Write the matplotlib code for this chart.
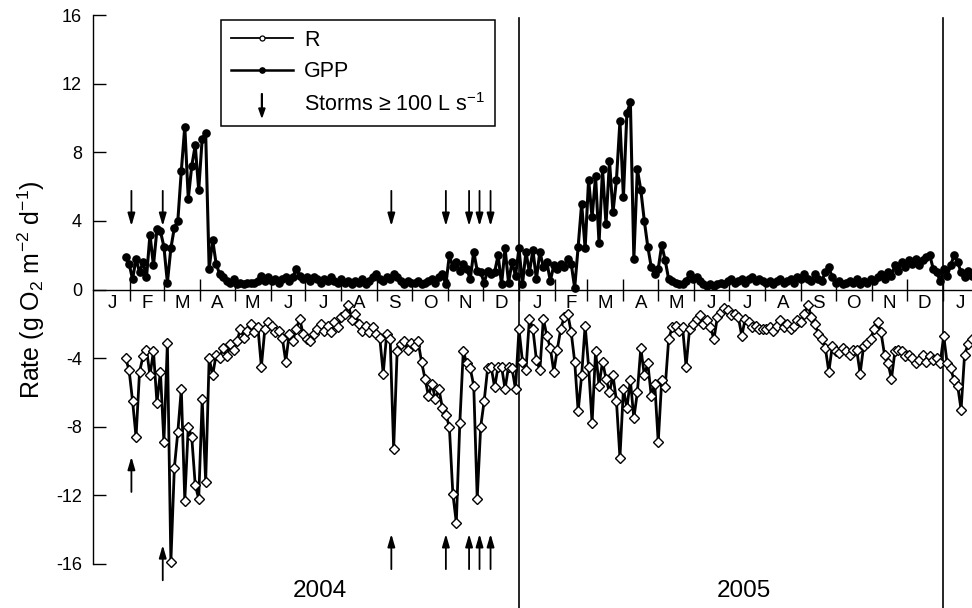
import numpy as np
import matplotlib
matplotlib.use('Agg')
import matplotlib.pyplot as plt
from matplotlib.lines import Line2D
from matplotlib.patches import FancyArrow, Patch
from matplotlib.legend_handler import HandlerPatch

plt.rcParams['font.family'] = ['Liberation Sans', 'DejaVu Sans']
plt.rcParams['mathtext.fontset'] = 'custom'
plt.rcParams['mathtext.rm'] = 'Liberation Sans'
plt.rcParams['mathtext.it'] = 'Liberation Sans:italic'
plt.rcParams['axes.unicode_minus'] = False

# ---------------- data ----------------
# days counted from 1 Jan 2004; values every 3 days starting at day 27
first_day = 27
step_days = 3

gpp = [
    1.9, 1.5, 0.6, 1.8, 1.0, 1.6, 0.7, 3.2, 1.4, 3.5,
    3.4, 2.5, 0.4, 2.4, 3.6, 4.0, 6.9, 9.5, 5.3, 7.2,
    8.4, 5.8, 8.8, 9.1, 1.2, 2.9, 1.5, 0.9, 0.7, 0.5,
    0.4, 0.6, 0.3, 0.4, 0.3, 0.4, 0.4, 0.4, 0.5, 0.8,
    0.5, 0.7, 0.5, 0.6, 0.4, 0.6, 0.7, 0.5, 0.7, 1.2,
    0.8, 0.6, 0.7, 0.5, 0.7, 0.6, 0.4, 0.6, 0.5, 0.7,
    0.5, 0.4, 0.6, 0.4, 0.5, 0.3, 0.5, 0.4, 0.6, 0.3,
    0.5, 0.7, 0.9, 0.6, 0.5, 0.7, 0.6, 0.9, 0.7, 0.5,
    0.3, 0.5, 0.4, 0.4, 0.5, 0.3, 0.4, 0.5, 0.6, 0.4,
    0.7, 0.9, 0.3, 2.0, 1.3, 1.6, 1.1, 1.5, 1.2, 0.6,
    2.2, 1.1, 1.0, 0.4, 1.1, 0.9, 1.0, 2.0, 0.3, 2.4,
    0.4, 1.6, 0.8, 2.4, 0.3, 2.2, 1.0, 2.3, 0.6, 2.2,
    1.3, 1.6, 0.5, 1.4, 1.2, 1.5, 1.3, 1.8, 1.5, 0.1,
    2.5, 5.0, 2.4, 6.4, 4.2, 6.6, 2.7, 7.0, 3.8, 7.5,
    4.5, 6.4, 9.8, 5.4, 10.3, 10.9, 1.8, 7.0, 5.8, 4.0,
    2.5, 1.3, 0.9, 1.2, 2.6, 1.7, 0.6, 0.5, 0.4, 0.3,
    0.3, 0.5, 0.9, 0.6, 0.7, 0.5, 0.3, 0.2, 0.3, 0.2,
    0.3, 0.4, 0.3, 0.5, 0.6, 0.4, 0.5, 0.6, 0.4, 0.6,
    0.7, 0.5, 0.6, 0.5, 0.4, 0.5, 0.3, 0.5, 0.6, 0.4,
    0.5, 0.6, 0.4, 0.7, 0.6, 0.9, 0.6, 0.5, 0.9, 0.6,
    0.5, 1.0, 1.3, 0.7, 0.4, 0.5, 0.3, 0.4, 0.5, 0.4,
    0.6, 0.3, 0.5, 0.4, 0.6, 0.5, 0.7, 0.9, 0.6, 1.0,
    0.8, 1.4, 1.1, 1.6, 1.3, 1.7, 1.5, 1.8, 1.4, 1.7,
    1.9, 2.0, 1.2, 1.0, 0.5, 1.2, 0.8, 1.4, 2.0, 1.6,
    1.0, 0.7, 1.1, 0.8,
]

resp = [
    -4.0, -4.7, -6.5, -8.6, -4.8, -3.9, -3.5, -5.0, -3.6, -6.6,
    -4.8, -8.9, -3.1, -15.9, -10.4, -8.3, -5.8, -12.3, -8.0, -8.6,
    -11.4, -12.2, -6.4, -11.2, -4.0, -5.0, -3.8, -4.0, -3.4, -3.9,
    -3.2, -3.5, -3.0, -2.3, -2.8, -2.4, -2.0, -2.5, -2.2, -4.5,
    -2.3, -1.9, -2.1, -2.5, -2.4, -2.8, -4.2, -2.6, -3.0, -2.3,
    -1.7, -2.6, -2.9, -3.0, -2.6, -2.3, -2.0, -2.4, -2.1, -2.5,
    -1.9, -2.2, -1.6, -1.4, -0.9, -1.8, -1.4, -2.0, -2.4, -2.1,
    -2.5, -2.2, -2.6, -2.8, -4.9, -2.6, -2.9, -9.3, -3.6, -3.2,
    -3.0, -3.5, -3.1, -3.3, -3.0, -4.2, -5.2, -6.2, -5.5, -6.4,
    -5.8, -6.9, -7.3, -8.0, -11.9, -13.6, -7.8, -3.6, -4.3, -4.6,
    -5.6, -12.2, -8.0, -6.5, -4.6, -4.5, -5.7, -4.5, -4.5, -5.8,
    -4.5, -4.6, -5.8, -2.3, -4.2, -4.7, -1.7, -2.3, -4.1, -4.7,
    -1.7, -2.7, -3.4, -4.8, -3.5, -2.3, -1.6, -1.4, -2.5, -4.2,
    -7.1, -5.0, -2.1, -4.5, -7.8, -3.6, -5.6, -4.2, -5.2, -6.0,
    -5.0, -6.5, -9.8, -5.8, -6.9, -5.3, -7.5, -6.0, -3.4, -5.0,
    -4.3, -6.2, -5.5, -8.9, -5.3, -5.7, -2.9, -2.2, -2.1, -2.4,
    -2.2, -4.5, -2.3, -2.0, -1.7, -1.5, -2.0, -1.8, -2.2, -2.9,
    -1.6, -1.3, -1.1, -1.2, -1.5, -1.4, -1.6, -2.7, -1.7, -1.9,
    -2.2, -2.1, -2.3, -2.3, -2.3, -2.2, -2.4, -2.1, -1.8, -2.2,
    -2.0, -2.3, -2.1, -1.8, -1.9, -1.4, -0.9, -1.6, -2.0, -2.6,
    -2.9, -3.4, -4.8, -3.3, -3.6, -3.7, -3.4, -3.6, -3.8, -3.5,
    -3.5, -4.9, -3.3, -3.1, -2.9, -2.3, -1.9, -2.5, -3.8, -4.3,
    -5.2, -3.6, -3.5, -3.6, -3.9, -3.8, -4.0, -4.3, -4.1, -3.8,
    -4.2, -3.9, -4.1, -4.0, -4.3, -2.7, -4.3, -4.6, -5.3, -5.6,
    -7.0, -3.8, -3.2, -2.9,
]

storm_days = [32, 59, 256, 303, 323, 332, 341.5]
month_letters = ['J', 'F', 'M', 'A', 'M', 'J', 'J', 'A', 'S', 'O', 'N', 'D']
year_labels = ['2004', '2005']
yticks = [-16, -12, -8, -4, 0, 4, 8, 12, 16]

# ---------------- derived positions ----------------
days_g = first_day + step_days * np.arange(len(gpp))
days_r = first_day + step_days * np.arange(len(resp))

origin = np.datetime64('2004-01-01')
month_starts = np.arange('2004-01', '2006-03', dtype='datetime64[M]')
month_start_days = (month_starts.astype('datetime64[D]') - origin).astype(int)
month_mid_days = (month_start_days[:-1] + month_start_days[1:]) / 2.0
month_mid_labels = [month_letters[i % 12] for i in range(len(month_mid_days))]
year_start_days = [(np.datetime64(f'{y}-01-01') - origin).astype(int) for y in (2005, 2006)]

x_lo, x_hi = -1.1, 756.4

fig = plt.figure(figsize=(9.72, 6.08), dpi=100)
ax = fig.add_axes([93 / 972, 1 - 564 / 608, 1 - 93 / 972, (564 - 15) / 608])
ax.set_xlim(x_lo, x_hi)
ax.set_ylim(-16, 16)

# spines
for s in ('top', 'right'):
    ax.spines[s].set_visible(False)
ax.spines['bottom'].set_position(('data', 0))
ax.spines['bottom'].set_linewidth(1.0)
ax.spines['left'].set_linewidth(1.0)

# y ticks
ax.set_yticks(yticks)
ax.set_yticklabels([str(v) for v in yticks])
ax.tick_params(axis='y', direction='in', length=9, width=1.0, labelsize=13, pad=8)

# x ticks: month boundaries (major), letters at month middles (minor)
sel = (month_start_days > 0) & (month_start_days < x_hi)
ax.set_xticks(month_start_days[sel])
ax.set_xticklabels([])
ax.tick_params(axis='x', which='major', direction='inout', length=16, width=1.0)
selm = month_mid_days < x_hi
ax.set_xticks(month_mid_days[selm], minor=True)
ax.set_xticklabels([l for l, k in zip(month_mid_labels, selm) if k], minor=True)
ax.tick_params(axis='x', which='minor', length=0, labelsize=13.5, pad=4)

# series
ax.plot(days_r, resp, color='black', lw=2.0, marker='D', ms=4.8,
        mfc='white', mec='black', mew=1.0, zorder=3, clip_on=False)
ax.plot(days_g, gpp, color='black', lw=2.2, marker='o', ms=5.2,
        mfc='black', mec='black', zorder=3)

# year separators
for d in year_start_days:
    ax.plot([d, d], [15.85, -18.7], color='black', lw=1.2, clip_on=False, zorder=2)

# year labels
for i, lab in enumerate(year_labels):
    ax.text(194 + 365.5 * i, -17.55, lab, ha='center', va='center', fontsize=17.5)

# storm arrows (down above GPP, up below R)
arrow_kw = dict(arrowstyle='-|>,head_length=0.75,head_width=0.22', color='black',
                lw=1.3, shrinkA=0, shrinkB=0, mutation_scale=10)
bottom_bases = [-11.8, -16.95, -16.3, -16.3, -16.3, -16.3, -16.3]
for d, b in zip(storm_days, bottom_bases):
    ax.annotate('', xy=(d, 3.7), xytext=(d, 5.75), arrowprops=arrow_kw, annotation_clip=False)
    ax.annotate('', xy=(d, b + 2.05), xytext=(d, b), arrowprops=arrow_kw, annotation_clip=False)

# y label
ax.set_ylabel('Rate (g O$_2$ m$^{-2}$ d$^{-1}$)', fontsize=18)
ax.yaxis.set_label_coords(-0.052, 0.5)


# legend
def make_arrow(legend, orig_handle, xdescent, ydescent, width, height, fontsize):
    return FancyArrow(width / 2 - xdescent, height * 1.15, 0, -height * 1.55,
                      width=0.6, head_width=4.5, head_length=6.5,
                      length_includes_head=True)


h_r = Line2D([], [], color='black', lw=1.3, marker='o', ms=3.6, mfc='white', mec='black', mew=0.9)
h_g = Line2D([], [], color='black', lw=1.8, marker='o', ms=3.8, mfc='black', mec='black')
h_s = Patch(facecolor='black', edgecolor='black')
leg = ax.legend([h_r, h_g, h_s], ['R', 'GPP', 'Storms \u2265 100 L s$^{-1}$'],
                handler_map={Patch: HandlerPatch(patch_func=make_arrow)},
                loc='upper left', bbox_to_anchor=(0.1456, 0.991), borderaxespad=0,
                fontsize=15.5, frameon=True, fancybox=False, framealpha=1,
                edgecolor='black', borderpad=0.45, handlelength=2.9,
                handletextpad=0.5, labelspacing=0.5)
leg.get_frame().set_linewidth(1.1)

fig.savefig('out.png', dpi=100)
